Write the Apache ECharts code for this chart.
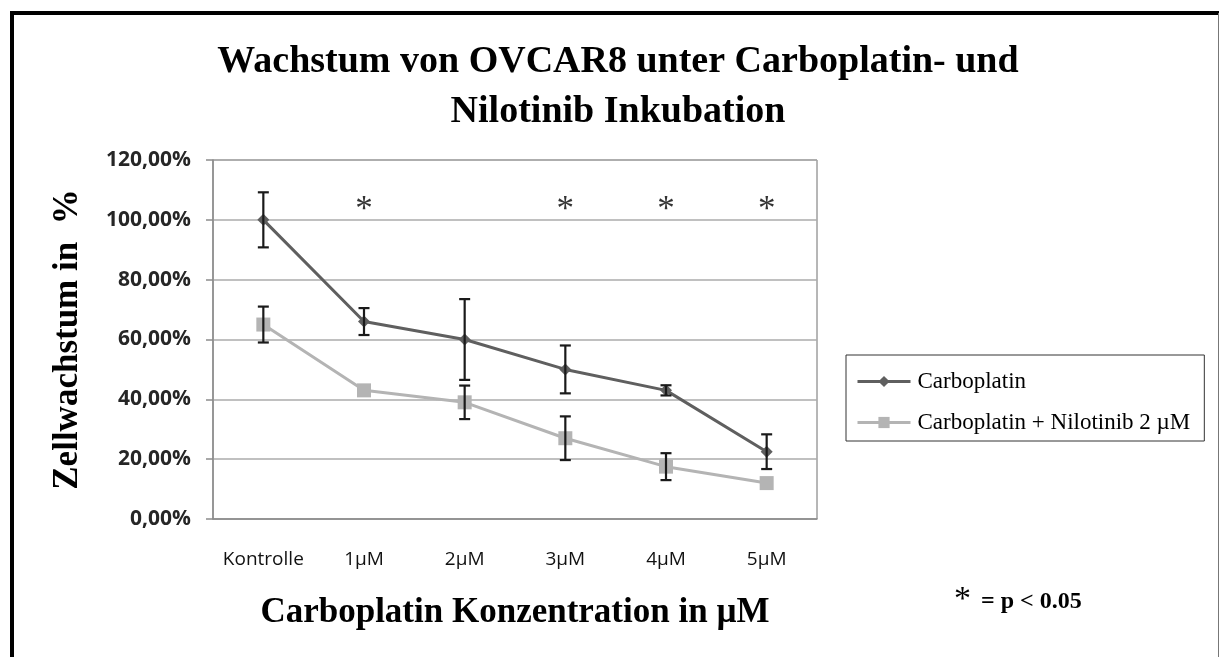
<!DOCTYPE html>
<html><head><meta charset="utf-8">
<script src="https://cdn.jsdelivr.net/npm/echarts@6/dist/echarts.min.js"></script>
<style>html,body{margin:0;padding:0;background:#fff}#c{width:1221px;height:657px}</style>
</head><body><div id="c"></div>
<script>
const categories = ['Kontrolle', '1µM', '2µM', '3µM', '4µM', '5µM'];
const carboplatin = [100, 66, 60, 50, 43, 22.5];
const carboplatinErr = [9.2, 4.5, 13.5, 8, 1.7, 5.8];
const nilotinib = [65, 43, 39, 27, 17.5, 12];
const nilotinibErr = [6, 0, 5.6, 7.3, 4.5, 0];
const starCategories = ['1µM', '3µM', '4µM', '5µM'];
const starLevel = 105;
const yTicks = [0, 20, 40, 60, 80, 100, 120];

const serif = '"Liberation Serif", "DejaVu Serif", serif';
const sans = '"Open Sans", "Liberation Sans", sans-serif';

function errData(vals, errs) {
  return vals.map((v, i) => [i, v - errs[i], v + errs[i]]).filter((d, i) => errs[i] > 0);
}
function errRender(params, api) {
  const x = api.value(0);
  const lo = api.coord([x, api.value(1)]);
  const hi = api.coord([x, api.value(2)]);
  const cap = 5.5;
  const st = { stroke: '#1a1a1a', lineWidth: 2.2 };
  return { type: 'group', children: [
    { type: 'line', shape: { x1: lo[0], y1: lo[1], x2: hi[0], y2: hi[1] }, style: st },
    { type: 'line', shape: { x1: lo[0] - cap, y1: lo[1], x2: lo[0] + cap, y2: lo[1] }, style: st },
    { type: 'line', shape: { x1: hi[0] - cap, y1: hi[1], x2: hi[0] + cap, y2: hi[1] }, style: st }
  ]};
}

const chart = echarts.init(document.getElementById('c'), null, { renderer: 'canvas' });
chart.setOption({
  backgroundColor: '#fff',
  animation: false,
  title: {
    text: 'Wachstum von OVCAR8 unter Carboplatin- und\nNilotinib Inkubation',
    left: 618, top: 37, padding: 0, textAlign: 'center',
    textStyle: { fontFamily: serif, fontWeight: 'bold', fontSize: 38, lineHeight: 50, color: '#000' }
  },
  grid: { left: 213, top: 160, width: 604, height: 359, show: true, borderColor: '#6e6e6e', borderWidth: 1 },
  legend: {
    left: 846, top: 355, orient: 'vertical',
    data: ['Carboplatin', 'Carboplatin + Nilotinib 2 µM'],
    borderColor: '#333', borderWidth: 1, padding: [15, 14, 7, 10], itemGap: 18,
    itemWidth: 53, itemHeight: 14,
    lineStyle: { width: 3 },
    textStyle: { fontFamily: serif, fontSize: 23, color: '#000', padding: [0, 0, 0, 2] }
  },
  xAxis: {
    type: 'category', data: categories, boundaryGap: true,
    axisLine: { lineStyle: { color: '#8c8c8c', width: 1.5 } },
    axisTick: { show: false },
    axisLabel: { interval: 0, hideOverlap: false, margin: 31, fontFamily: sans, fontSize: 19, color: '#111' },
    name: 'Carboplatin Konzentration in µM', nameLocation: 'middle', nameGap: 76,
    nameTextStyle: { fontFamily: serif, fontWeight: 'bold', fontSize: 35, color: '#000' }
  },
  yAxis: {
    type: 'value', min: 0, max: 120, interval: 20,
    axisLine: { show: true, lineStyle: { color: '#8c8c8c', width: 1.5 } },
    axisTick: { show: true, length: 7, lineStyle: { color: '#8c8c8c', width: 1.5 } },
    splitLine: { lineStyle: { color: '#ababab', width: 1.5 } },
    axisLabel: { margin: 22, fontFamily: sans, fontWeight: 'bold', fontSize: 21, color: '#262626',
      formatter: v => v.toFixed(2).replace('.', ',') + '%' },
    name: 'Zellwachstum in  %', nameLocation: 'middle', nameGap: 128, nameRotate: 90,
    nameTextStyle: { fontFamily: serif, fontWeight: 'bold', fontSize: 35, color: '#000' }
  },
  series: [
    { name: 'Carboplatin', type: 'line', data: carboplatin, symbol: 'diamond', symbolSize: 12,
      lineStyle: { color: '#5f5f5f', width: 3 }, itemStyle: { color: '#5f5f5f' }, z: 3 },
    { name: 'Carboplatin + Nilotinib 2 µM', type: 'line', data: nilotinib, symbol: 'rect', symbolSize: 14,
      lineStyle: { color: '#b4b4b4', width: 3 }, itemStyle: { color: '#b4b4b4' }, z: 2 },
    { type: 'custom', renderItem: errRender, data: errData(carboplatin, carboplatinErr), z: 4, silent: true },
    { type: 'custom', renderItem: errRender, data: errData(nilotinib, nilotinibErr), z: 4, silent: true },
    { type: 'scatter', data: starCategories.map(c => [c, starLevel]), symbolSize: 1,
      itemStyle: { color: 'rgba(0,0,0,0)' }, silent: true,
      label: { show: true, position: 'inside', formatter: '*', fontFamily: serif, fontSize: 35, color: '#000', offset: [0, 6] } }
  ],
  graphic: [
    { type: 'line', shape: { x1: 12, y1: 13, x2: 1219, y2: 13 }, style: { stroke: '#000', lineWidth: 4 } },
    { type: 'line', shape: { x1: 12, y1: 11, x2: 12, y2: 657 }, style: { stroke: '#000', lineWidth: 4 } },
    { type: 'line', shape: { x1: 1218.5, y1: 13, x2: 1218.5, y2: 657 }, style: { stroke: '#777', lineWidth: 1 } },
    { type: 'text', left: 954, top: 583, style: { text: '*', fontFamily: serif, fontSize: 34, fill: '#000' } },
    { type: 'text', left: 981, top: 590, style: { text: '= p < 0.05', fontFamily: serif, fontWeight: 'bold', fontSize: 24, fill: '#000' } }
  ]
});
</script></body></html>
